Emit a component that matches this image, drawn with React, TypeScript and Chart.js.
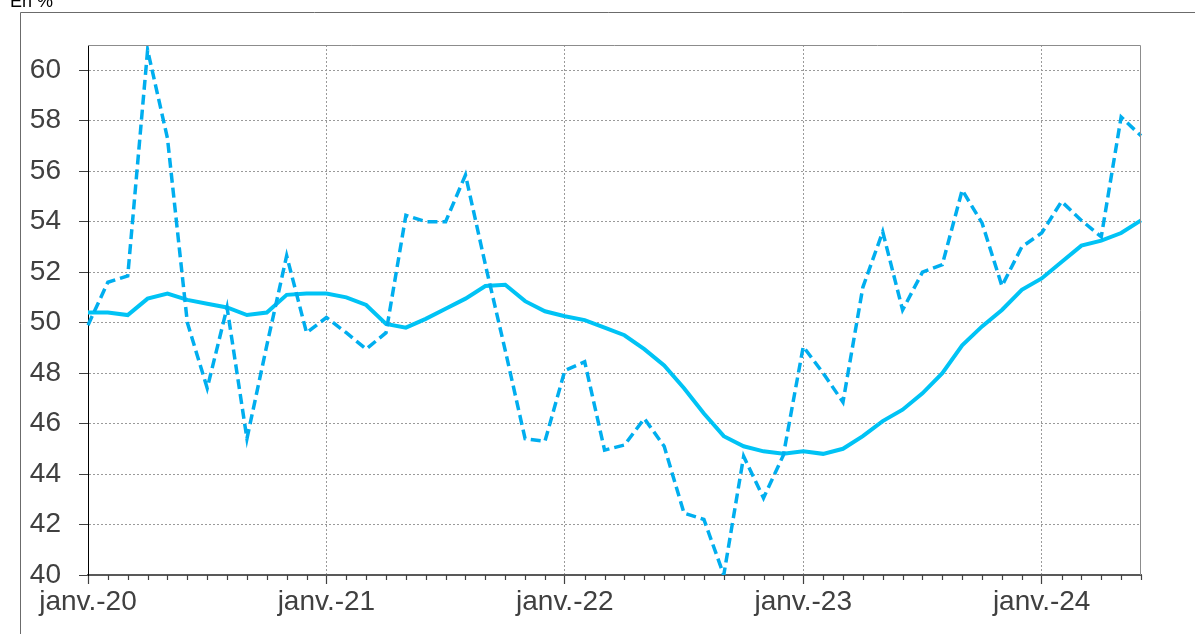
import React, { useEffect, useRef } from "react";
import { Chart, registerables } from "chart.js";

Chart.register(...registerables);

const MONTHS = ["janv.", "févr.", "mars", "avr.", "mai", "juin", "juil.", "août", "sept.", "oct.", "nov.", "déc."];
const YEARS = ["20", "21", "22", "23", "24"];
const N_POINTS = 54;

const categories: string[] = [];
for (let i = 0; i < N_POINTS; i++) {
  categories.push(MONTHS[i % 12] + "-" + YEARS[Math.floor(i / 12)]);
}

const monthlySeries = [
  49.9, 51.6, 51.85, 60.8, 57.3, 50.0, 47.4, 50.6, 45.4, 49.1, 52.65, 49.6,
  50.2, 49.6, 48.95, 49.6, 54.25, 54.0, 54.0, 55.85, 52.3, 48.9, 45.4, 45.3,
  48.1, 48.45, 44.95, 45.15, 46.2, 45.1, 42.45, 42.2, 40.0, 44.7, 43.05, 44.75,
  49.05, 48.0, 46.85, 51.4, 53.6, 50.5, 52.0, 52.3, 55.25, 53.95, 51.45, 53.0,
  53.55, 54.8, 54.05, 53.4, 58.15, 57.4,
];

const smoothedSeries = [
  50.4, 50.4, 50.3, 50.95, 51.15, 50.9, 50.75, 50.6, 50.3, 50.4, 51.1, 51.15,
  51.15, 51.0, 50.7, 49.95, 49.8, 50.15, 50.55, 50.95, 51.45, 51.5, 50.85, 50.45,
  50.25, 50.1, 49.8, 49.5, 48.95, 48.3, 47.4, 46.4, 45.5, 45.1, 44.9, 44.8,
  44.9, 44.8, 45.0, 45.5, 46.1, 46.55, 47.2, 48.0, 49.1, 49.85, 50.5, 51.3,
  51.75, 52.4, 53.05, 53.25, 53.55, 54.05,
];

const Y_MIN = 40;
const Y_MAX = 61;
const Y_STEP = 2;
const UNIT_LABEL = "En %";

const FONT = "'Liberation Sans', Arial, sans-serif";
const TEXT_COLOR = "#404040";

const framePlugin = {
  id: "framePlugin",
  beforeDraw(chart: any) {
    const ctx = chart.ctx;
    ctx.save();
    ctx.strokeStyle = "#6b6b6b";
    ctx.lineWidth = 1;
    ctx.beginPath();
    ctx.moveTo(20.5, 640);
    ctx.lineTo(20.5, 12.5);
    ctx.lineTo(1200, 12.5);
    ctx.stroke();
    ctx.fillStyle = "#000";
    ctx.font = "18px " + FONT;
    ctx.textBaseline = "alphabetic";
    ctx.fillText(UNIT_LABEL, 10, 7);
    ctx.restore();
  },
  afterDraw(chart: any) {
    const ctx = chart.ctx;
    const a = chart.chartArea;
    const xs = chart.scales.x;
    ctx.save();
    ctx.strokeStyle = "#8c8c8c";
    ctx.lineWidth = 1;
    ctx.beginPath();
    ctx.moveTo(a.left, a.top + 0.5);
    ctx.lineTo(a.right - 0.5, a.top + 0.5);
    ctx.lineTo(a.right - 0.5, a.bottom);
    ctx.stroke();
    ctx.strokeStyle = "#404040";
    ctx.lineWidth = 1.2;
    ctx.beginPath();
    for (let i = 0; i < categories.length; i++) {
      if (i % 12 === 0) continue;
      const px = Math.round(xs.getPixelForValue(i)) + 0.5;
      ctx.moveTo(px, a.bottom);
      ctx.lineTo(px, a.bottom + 5);
    }
    ctx.stroke();
    ctx.restore();
  },
};

export default function App() {
  const ref = useRef<HTMLCanvasElement | null>(null);

  useEffect(() => {
    if (!ref.current) return;
    const chart = new Chart(ref.current, {
      type: "line",
      data: {
        labels: categories,
        datasets: [
          {
            label: "mensuel",
            data: monthlySeries,
            borderColor: "#00AEEF",
            borderWidth: 3.5,
            borderDash: [10, 5],
            borderCapStyle: "butt",
            pointRadius: 0,
            tension: 0,
            fill: false,
          },
          {
            label: "moyenne",
            data: smoothedSeries,
            borderColor: "#00C3F5",
            borderWidth: 4,
            pointRadius: 0,
            tension: 0,
            fill: false,
          },
        ],
      },
      options: {
        responsive: false,
        animation: false,
        devicePixelRatio: 1,
        layout: { padding: { left: 0, top: 45, right: 54, bottom: 0 } },
        plugins: {
          legend: { display: false },
          tooltip: { enabled: false },
          title: { display: false },
        },
        scales: {
          x: {
            type: "category",
            offset: false,
            afterFit(scale: any) {
              scale.height = 59;
            },
            grid: {
              display: true,
              drawOnChartArea: true,
              color: (c: any) => (c.index % 12 === 0 && c.index > 0 ? "#9a9a9a" : "rgba(0,0,0,0)"),
              tickColor: (c: any) => (c.index % 12 === 0 ? "#404040" : "rgba(0,0,0,0)"),
              tickLength: 9,
              lineWidth: 1,
              tickWidth: 1.2,
              tickBorderDash: [],
            } as any,
            border: { display: true, color: "#595959", width: 2, dash: [2, 2] } as any,
            ticks: {
              autoSkip: false,
              maxRotation: 0,
              minRotation: 0,
              padding: 1,
              color: TEXT_COLOR,
              font: { family: FONT, size: 28 },
              callback: (_v: any, i: number) => (i % 12 === 0 ? categories[i] : ""),
            },
          },
          y: {
            min: Y_MIN,
            max: Y_MAX,
            afterFit(scale: any) {
              scale.width = 88;
            },
            grid: {
              color: "#9a9a9a",
              lineWidth: 1,
              tickLength: 9,
              tickColor: "#404040",
              tickBorderDash: [],
            } as any,
            border: { display: true, color: "#000", width: 1, dash: [2, 2] } as any,
            ticks: {
              stepSize: Y_STEP,
              includeBounds: false,
              padding: 18,
              color: TEXT_COLOR,
              font: { family: FONT, size: 28 },
            },
          },
        },
      },
      plugins: [framePlugin],
    } as any);
    return () => chart.destroy();
  }, []);

  return (
    <div style={{ position: "absolute", left: 0, top: 0, width: 1195, height: 634 }}>
      <canvas ref={ref} width={1195} height={634} style={{ width: 1195, height: 634 }} />
    </div>
  );
}
